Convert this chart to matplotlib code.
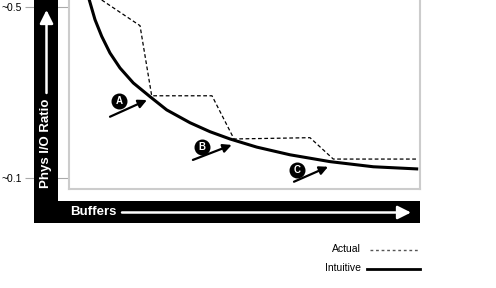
import matplotlib
matplotlib.use("Agg")
import matplotlib.pyplot as plt
from matplotlib.patches import Rectangle, FancyArrowPatch
from matplotlib.lines import Line2D

plt.rcParams['font.family'] = ['Liberation Sans', 'DejaVu Sans']

# Buffers (relative units) and physical I/O ratio
intuitive_x = [5.78, 7.41, 9.32, 11.68, 14.53, 18.32, 23.08, 27.83, 34.47, 40.17,
               45.87, 53.48, 62.96, 74.36, 86.70, 99.06]
intuitive_y = [0.516, 0.470, 0.431, 0.392, 0.357, 0.322, 0.290, 0.259, 0.229, 0.208,
               0.191, 0.172, 0.154, 0.138, 0.126, 0.121]

actual_x = [9.32, 20.23, 23.56, 40.74, 47.01, 68.66, 75.3, 99.1]
actual_y = [0.516, 0.456, 0.292, 0.292, 0.191, 0.194, 0.144, 0.144]

ytick_vals = [0.5, 0.1]
ytick_labels = ["~0.5", "~0.1"]

# Callouts: letter, label centre, arrow tail, arrow head (data units)
markers = ["A", "B", "C"]
marker_label_xy = [(14.25, 0.280), (37.8, 0.173), (64.9, 0.119)]
marker_tail_xy = [(11.68, 0.243), (35.3, 0.142), (64.1, 0.091)]
marker_head_xy = [(22.2, 0.282), (46.35, 0.177), (73.8, 0.126)]

W, H = 496, 288
fig = plt.figure(figsize=(W / 100, H / 100), dpi=100)


def fx(px):
    return px / W


def fy(py):
    return 1 - py / H


ax = fig.add_axes([fx(69), fy(189), fx(420) - fx(69), fy(0) - fy(189)])
ax.set_xlim(0, 100)
ax.set_ylim(0.074, 0.516)

ax.plot(actual_x, actual_y, color="black", lw=0.9, ls=(0, (3, 2)))
ax.plot(intuitive_x, intuitive_y, color="black", lw=2.2, solid_joinstyle="round")

for s in ["left", "bottom", "right"]:
    ax.spines[s].set_color("#cccccc")
    ax.spines[s].set_linewidth(1.5)
ax.spines["top"].set_visible(False)

ax.set_xticks([])
ax.set_yticks(ytick_vals)
ax.set_yticklabels(ytick_labels, fontsize=7.5, color="black")
ax.tick_params(axis="y", length=31.7, width=0.8, color="#aaaaaa", pad=2)

# Lettered callouts with arrows
for letter, lab, tail, head in zip(markers, marker_label_xy, marker_tail_xy, marker_head_xy):
    ax.annotate("", xy=head, xytext=tail,
                arrowprops=dict(arrowstyle="-|>,head_length=0.5,head_width=0.25",
                                color="black", lw=1.6, shrinkA=0, shrinkB=0))
    ax.plot([lab[0]], [lab[1]], marker="o", ms=10.5, color="black", zorder=4)
    ax.text(lab[0], lab[1], letter, ha="center", va="center", color="white",
            fontsize=7, fontweight="bold", zorder=5)

# Black axis bars
fig.patches.append(Rectangle((fx(34), fy(223)), fx(58) - fx(34), fy(0) - fy(223),
                             transform=fig.transFigure, fc="black", ec="none", zorder=1))
fig.patches.append(Rectangle((fx(58), fy(223)), fx(420) - fx(58), fy(201) - fy(223),
                             transform=fig.transFigure, fc="black", ec="none", zorder=1))

fig.text(fx(46.5), fy(143), "Phys I/O Ratio", rotation=90, ha="center", va="center",
         color="white", fontsize=9.5, fontweight="bold", zorder=3)
fig.text(fx(70), fy(212), "Buffers", ha="left", va="center",
         color="white", fontsize=9.5, fontweight="bold", zorder=3)

fig.patches.append(FancyArrowPatch((fx(46.5), fy(93)), (fx(46.5), fy(10)),
                                   transform=fig.transFigure, color="white", lw=1.8,
                                   arrowstyle="-|>,head_length=0.8,head_width=0.4",
                                   mutation_scale=10, shrinkA=0, shrinkB=0, zorder=3))
fig.patches.append(FancyArrowPatch((fx(122), fy(212.5)), (fx(411), fy(212.5)),
                                   transform=fig.transFigure, color="white", lw=1.8,
                                   arrowstyle="-|>,head_length=0.8,head_width=0.4",
                                   mutation_scale=10, shrinkA=0, shrinkB=0, zorder=3))

# Legend
fig.text(fx(361), fy(249), "Actual", ha="right", va="center", fontsize=7.5)
fig.text(fx(361), fy(268), "Intuitive", ha="right", va="center", fontsize=7.5)
fig.lines.append(Line2D([fx(370), fx(420)], [fy(250), fy(250)], transform=fig.transFigure,
                        color="#555555", lw=1.0, ls=(0, (2, 2))))
fig.lines.append(Line2D([fx(367), fx(420)], [fy(269), fy(269)], transform=fig.transFigure,
                        color="black", lw=2.0))

fig.savefig("out.png", dpi=100)
